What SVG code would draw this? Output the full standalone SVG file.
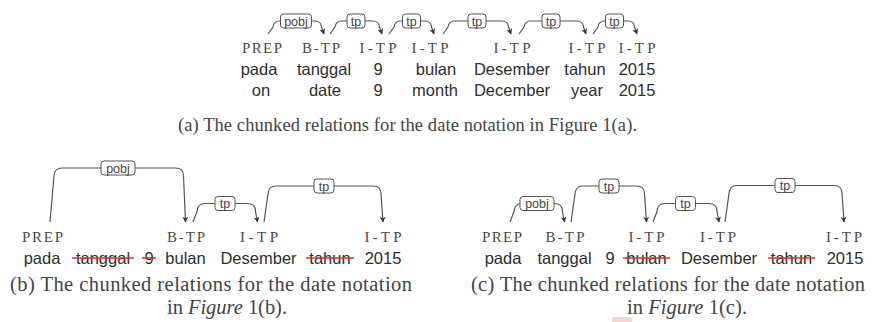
<svg xmlns="http://www.w3.org/2000/svg" width="874" height="322" viewBox="0 0 874 322">
<style>
  .tag{font-family:"Liberation Serif","Times New Roman",serif;font-size:15px;fill:#4a4a4a;text-anchor:middle}
  .w{font-family:"Liberation Sans",Arial,sans-serif;font-size:16.5px;fill:#2e2e2e;text-anchor:middle}
  .cap{font-family:"Liberation Serif","Times New Roman",serif;font-size:18.5px;fill:#444}
  .cap2{font-family:"Liberation Serif","Times New Roman",serif;font-size:20.5px;fill:#444}
  .arc{fill:none;stroke:#555;stroke-width:1.2;marker-end:url(#ah)}
  .lb{fill:#fff;stroke:#555;stroke-width:1}
  .lt{font-family:"Liberation Sans",Arial,sans-serif;font-size:12.5px;fill:#444;text-anchor:middle}
  .st{stroke:#e0302a;stroke-width:1.6}
</style>
<defs>
  <marker id="ah" viewBox="0 0 10 10" refX="9" refY="5" markerWidth="6" markerHeight="6" markerUnits="userSpaceOnUse" orient="auto">
    <path d="M0,0 L10,5 L0,10 L3,5 z" fill="#333"/>
  </marker>
</defs>
<rect width="874" height="322" fill="#fff"/>

<!-- Part (a) -->
<g id="a-col1"><text class="tag" x="262" y="53" textLength="40">PREP</text><text class="w" x="259" y="75">pada</text><text class="w" x="261" y="96">on</text></g>
<g id="a-col2"><text class="tag" x="321" y="53" textLength="38">B-TP</text><text class="w" x="324" y="75">tanggal</text><text class="w" x="325" y="96">date</text></g>
<g id="a-col3"><text class="tag" x="378" y="53" textLength="37">I-TP</text><text class="w" x="378" y="75">9</text><text class="w" x="378" y="96">9</text></g>
<g id="a-col4"><text class="tag" x="430" y="53" textLength="37">I-TP</text><text class="w" x="436" y="75">bulan</text><text class="w" x="435" y="96">month</text></g>
<g id="a-col5"><text class="tag" x="512" y="53" textLength="37">I-TP</text><text class="w" x="512" y="75">Desember</text><text class="w" x="512" y="96">December</text></g>
<g id="a-col6"><text class="tag" x="587" y="53" textLength="37">I-TP</text><text class="w" x="585" y="75">tahun</text><text class="w" x="587" y="96">year</text></g>
<g id="a-col7"><text class="tag" x="637" y="53" textLength="37">I-TP</text><text class="w" x="637" y="75">2015</text><text class="w" x="637" y="96">2015</text></g>

<text class="cap" x="178" y="131" textLength="459">(a) The chunked relations for the date notation in Figure 1(a).</text>

<!-- Part (b) -->
<g id="b-pada"><text class="tag" x="42.5" y="242" textLength="41">PREP</text><text class="w" x="42" y="264">pada</text></g>
<g id="b-tanggal"><text class="w" x="103" y="264">tanggal</text><line class="st" x1="72" y1="258" x2="134" y2="258"/></g>
<g id="b-9"><text class="w" x="149" y="264">9</text><line class="st" x1="142" y1="258" x2="156" y2="258"/></g>
<g id="b-bulan"><text class="tag" x="186" y="242" textLength="38">B-TP</text><text class="w" x="185.5" y="264">bulan</text></g>
<g id="b-desember"><text class="tag" x="259" y="242" textLength="38">I-TP</text><text class="w" x="258.5" y="264">Desember</text></g>
<g id="b-tahun"><text class="w" x="330" y="264">tahun</text><line class="st" x1="306" y1="258" x2="354" y2="258"/></g>
<g id="b-2015"><text class="tag" x="383" y="242" textLength="37">I-TP</text><text class="w" x="383" y="264">2015</text></g>

<text class="cap2" x="10" y="291" textLength="402">(b) The chunked relations for the date notation</text>
<text class="cap2" x="167" y="314" textLength="120">in <tspan font-style="italic">Figure</tspan> 1(b).</text>

<!-- Part (c) -->
<g id="c-pada"><text class="tag" x="502" y="242" textLength="40">PREP</text><text class="w" x="503" y="264">pada</text></g>
<g id="c-tanggal"><text class="tag" x="565" y="242" textLength="39">B-TP</text><text class="w" x="564.5" y="264">tanggal</text></g>
<g id="c-9"><text class="w" x="610" y="264">9</text></g>
<g id="c-bulan"><text class="tag" x="646.5" y="242" textLength="36">I-TP</text><text class="w" x="646.5" y="264">bulan</text><line class="st" x1="623" y1="258" x2="670" y2="258"/></g>
<g id="c-desember"><text class="tag" x="718" y="242" textLength="36">I-TP</text><text class="w" x="719" y="264">Desember</text></g>
<g id="c-tahun"><text class="w" x="791.5" y="264">tahun</text><line class="st" x1="768" y1="258" x2="815" y2="258"/></g>
<g id="c-2015"><text class="tag" x="844" y="242" textLength="36">I-TP</text><text class="w" x="845" y="264">2015</text></g>

<text class="cap2" x="471" y="291" textLength="394">(c) The chunked relations for the date notation</text>
<text class="cap2" x="627" y="314" textLength="120">in <tspan font-style="italic">Figure</tspan> 1(c).</text>

<rect x="612" y="317" width="20" height="8" rx="3" fill="#f0d6cf"/>

<!-- Connectors -->
<g id="connectors">
  <path class="arc" d="M268,34 L273,27 Q274,21 279,21 L315,21 Q321,21 321.5,27 L324,34"/>
  <path class="arc" d="M330,34 L335,27 Q336,21 341,21 L373,21 Q379,21 379.5,27 L382,34"/>
  <path class="arc" d="M389,34 L394,27 Q395,21 400,21 L425,21 Q431,21 431.5,27 L434,34"/>
  <path class="arc" d="M443,34 L448,27 Q449,21 454,21 L502,21 Q508,21 508.5,27 L511,34"/>
  <path class="arc" d="M519,34 L524,27 Q525,21 530,21 L577,21 Q583,21 583.5,27 L586,34"/>
  <path class="arc" d="M593,34 L598,27 Q599,21 604,21 L628,21 Q634,21 634.5,27 L637,34"/>

  <path class="arc" d="M50,222 L54,176 Q54.5,168 62,168 L175.5,168 Q183.5,168 183.5,176 L185.5,222"/>
  <path class="arc" d="M193,222 L197,211.5 Q197.5,203.5 205,203.5 L247.5,203.5 Q255.5,203.5 255.5,211.5 L257.5,222"/>
  <path class="arc" d="M264,222 L268,194 Q268.5,186 276,186 L373,186 Q381,186 381,194 L383,222"/>

  <path class="arc" d="M510,222 L514,211.5 Q514.5,203.5 522,203.5 L554.5,203.5 Q562.5,203.5 562.5,211.5 L564.5,222"/>
  <path class="arc" d="M571,222 L575,194 Q575.5,186 583,186 L636.5,186 Q644.5,186 644.5,194 L646.5,222"/>
  <path class="arc" d="M653,222 L657,211.5 Q657.5,203.5 665,203.5 L709,203.5 Q717,203.5 717,211.5 L719,222"/>
  <path class="arc" d="M725,222 L729,193.5 Q729.5,185.5 737,185.5 L834,185.5 Q842,185.5 842,193.5 L844,222"/>

  <rect class="lb" x="280.5" y="14" width="31" height="14" rx="3"/><text class="lt" x="296" y="25.5">pobj</text>
  <rect class="lb" x="347" y="14" width="18" height="14" rx="3"/><text class="lt" x="356" y="25.5">tp</text>
  <rect class="lb" x="402.5" y="14" width="18" height="14" rx="3"/><text class="lt" x="411.5" y="25.5">tp</text>
  <rect class="lb" x="468" y="14" width="18" height="14" rx="3"/><text class="lt" x="477" y="25.5">tp</text>
  <rect class="lb" x="542" y="14" width="18" height="14" rx="3"/><text class="lt" x="551" y="25.5">tp</text>
  <rect class="lb" x="605.5" y="14" width="18" height="14" rx="3"/><text class="lt" x="614.5" y="25.5">tp</text>

  <rect class="lb" x="101" y="161" width="34" height="14" rx="3"/><text class="lt" x="118" y="172.5">pobj</text>
  <rect class="lb" x="215" y="196.5" width="20" height="14" rx="3"/><text class="lt" x="225" y="208">tp</text>
  <rect class="lb" x="314" y="179" width="20" height="14" rx="3"/><text class="lt" x="324" y="190.5">tp</text>

  <rect class="lb" x="520" y="196.5" width="34" height="14" rx="3"/><text class="lt" x="537" y="208">pobj</text>
  <rect class="lb" x="599" y="179" width="20" height="14" rx="3"/><text class="lt" x="609" y="190.5">tp</text>
  <rect class="lb" x="675.5" y="196.5" width="20" height="14" rx="3"/><text class="lt" x="685.5" y="208">tp</text>
  <rect class="lb" x="775" y="178.5" width="20" height="14" rx="3"/><text class="lt" x="785" y="190">tp</text>
</g>
</svg>
